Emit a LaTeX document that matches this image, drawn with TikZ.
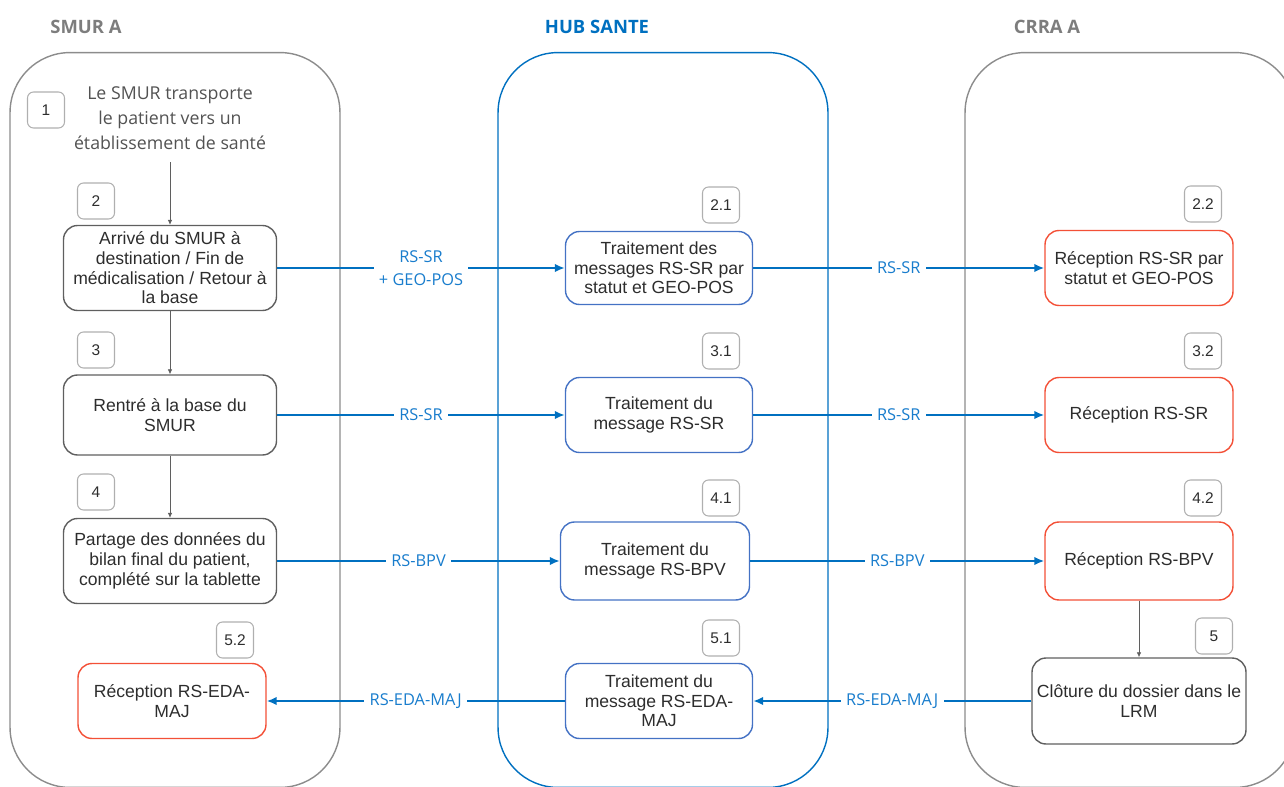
\documentclass[tikz,border=0pt]{standalone}
\usepackage{fontspec}
\setmainfont{Liberation Sans}
\newfontfamily\opensans{Open Sans}
\usepackage{tikz}
\usepackage{xcolor}
\usetikzlibrary{arrows.meta, positioning}
\definecolor{cLane}{RGB}{140,140,140}
\definecolor{cHub}{RGB}{0,112,192}
\definecolor{cTitle}{RGB}{125,125,125}
\definecolor{cBox}{RGB}{95,95,95}
\definecolor{cHubBox}{RGB}{68,114,196}
\definecolor{cRecv}{RGB}{243,80,55}
\definecolor{cNum}{RGB}{175,175,175}
\definecolor{cText}{RGB}{45,45,45}
\definecolor{cMsg}{RGB}{0,112,192}
\definecolor{cMsgText}{RGB}{25,125,205}
\tikzset{
	lane/.style     ={rectangle, rounded corners=1.2cm, minimum width=6.6cm, minimum height=14.7cm, line width=0.8pt},
	title/.style    ={font=\opensans\bfseries\fontsize{10.5}{12}\selectfont},
	stepbox/.style  ={rectangle, rounded corners=0.28cm, draw=cBox, line width=0.8pt, align=center, inner sep=0pt, text=cText, font=\fontsize{10}{11.2}\selectfont},
	hubbox/.style   ={stepbox, draw=cHubBox},
	recvbox/.style  ={stepbox, draw=cRecv},
	numbox/.style   ={rectangle, rounded corners=0.12cm, draw=cNum, line width=0.6pt, minimum width=0.74cm, minimum height=0.72cm, inner sep=0pt, text=cText, font=\fontsize{8.8}{10}\selectfont},
	msg/.style      ={-{Latex[length=2mm, width=1.7mm]}, draw=cMsg, line width=1.1pt},
	msglabel/.style ={fill=white, text=cMsgText, align=center, inner sep=3pt, font=\opensans\fontsize{9.3}{13}\selectfont},
	seq/.style      ={-{Latex[length=1mm, width=0.9mm]}, draw=cBox, line width=0.4pt},
}

\begin{document}
\begin{tikzpicture}[x=0.02cm, y=-0.02cm]
	\useasboundingbox (0,0) rectangle (1284,787);
	\clip (0,0) rectangle (1284,787);
	% swimlanes
	\node[lane, draw=cLane] (smur) at (175,420) {};
	\node[lane, draw=cHub] (hub) at (663,420) {};
	\node[lane, draw=cLane] (crra) at (1130,420) {};
	\node[title, text=cTitle] (tsmur) at (86,27) {SMUR A};
	\node[title, text=cHub] (thub) at (597,27) {HUB SANTE};
	\node[title, text=cTitle] (tcrra) at (1047,27) {CRRA A};

	% SMUR A
	\node[numbox] (n1) at (46,110) {1};
	\node[align=center, text=black!68, inner sep=7pt, font=\opensans\fontsize{10.1}{14.4}\selectfont] (s1) at (170,118) {Le SMUR transporte\\le patient vers un\\établissement de santé};
	\node[numbox] (n2) at (96,201) {2};
	\node[stepbox, minimum width=4.26cm, minimum height=1.7cm] (s2) at (170,268) {Arrivé du SMUR à\\destination / Fin de\\médicalisation / Retour à\\la base};
	\node[numbox] (n3) at (96,350) {3};
	\node[stepbox, minimum width=4.26cm, minimum height=1.6cm] (s3) at (170,415) {Rentré à la base du\\SMUR};
	\node[numbox] (n4) at (96,492) {4};
	\node[stepbox, minimum width=4.26cm, minimum height=1.7cm] (s4) at (170,561) {Partage des données du\\bilan final du patient,\\complété sur la tablette};
	\node[numbox] (n52) at (235,640) {5.2};
	\node[recvbox, minimum width=3.76cm, minimum height=1.5cm] (s52) at (172,701) {Réception RS-EDA-\\MAJ};

	% HUB SANTE
	\node[numbox] (n21) at (721,205) {2.1};
	\node[hubbox, minimum width=3.74cm, minimum height=1.46cm] (s21) at (659,268) {Traitement des\\messages RS-SR par\\statut et GEO-POS};
	\node[numbox] (n31) at (721,351) {3.1};
	\node[hubbox, minimum width=3.74cm, minimum height=1.5cm] (s31) at (659,415) {Traitement du\\message RS-SR};
	\node[numbox] (n41) at (721,498) {4.1};
	\node[hubbox, minimum width=3.78cm, minimum height=1.56cm] (s41) at (655,561) {Traitement du\\message RS-BPV};
	\node[numbox] (n51) at (721,638) {5.1};
	\node[hubbox, minimum width=3.74cm, minimum height=1.5cm] (s51) at (659,701) {Traitement du\\message RS-EDA-\\MAJ};

	% CRRA A
	\node[numbox] (n22) at (1203,204) {2.2};
	\node[recvbox, minimum width=3.76cm, minimum height=1.5cm] (s22) at (1139,268) {Réception RS-SR par\\statut et GEO-POS};
	\node[numbox] (n32) at (1203,351) {3.2};
	\node[recvbox, minimum width=3.76cm, minimum height=1.5cm] (s32) at (1139,415) {Réception RS-SR};
	\node[numbox] (n42) at (1203,498) {4.2};
	\node[recvbox, minimum width=3.76cm, minimum height=1.56cm] (s42) at (1139,561) {Réception RS-BPV};
	\node[numbox] (n5) at (1214,636) {5};
	\node[stepbox, minimum width=4.28cm, minimum height=1.72cm] (s5) at (1139,701) {Clôture du dossier dans le\\LRM};

	% sequence
	\draw[seq] (s1) -- (s2); \draw[seq] (s2) -- (s3); \draw[seq] (s3) -- (s4); \draw[seq] (s42) -- (s5);

	% messages
	\draw[msg] (s2) -- node[msglabel] {RS-SR\\+ GEO-POS} (s21);
	\draw[msg] (s21) -- node[msglabel] {RS-SR} (s22);
	\draw[msg] (s3) -- node[msglabel] {RS-SR} (s31);
	\draw[msg] (s31) -- node[msglabel] {RS-SR} (s32);
	\draw[msg] (s4) -- node[msglabel] {RS-BPV} (s41);
	\draw[msg] (s41) -- node[msglabel] {RS-BPV} (s42);
	\draw[msg] (s5) -- node[msglabel] {RS-EDA-MAJ} (s51);
	\draw[msg] (s51) -- node[msglabel] {RS-EDA-MAJ} (s52);
\end{tikzpicture}
\end{document}
